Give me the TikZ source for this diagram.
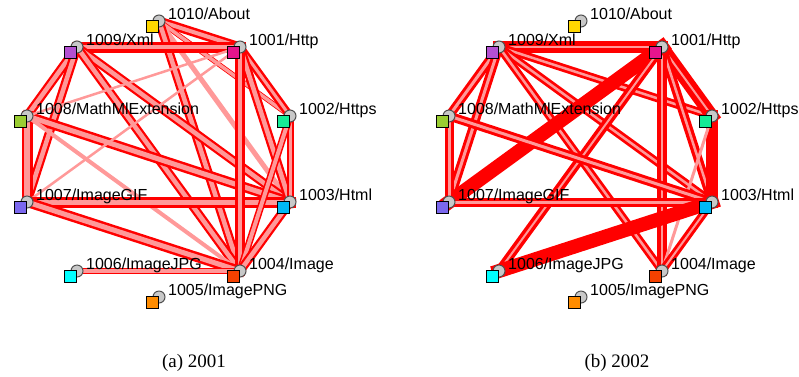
\documentclass[tikz,border=0pt]{standalone}
\usepackage{fontspec}
\setmainfont{Liberation Serif}
\newfontfamily\lblfont{Liberation Sans}
\usetikzlibrary{calc}
\definecolor{eRed}{RGB}{255,0,0}
\definecolor{ePink}{RGB}{255,153,153}
\definecolor{cGray}{RGB}{200,200,200}
\definecolor{cEdge}{RGB}{80,80,80}
\definecolor{cAbout}{RGB}{255,215,0}
\definecolor{cHttp}{RGB}{230,20,140}
\definecolor{cXml}{RGB}{180,80,210}
\definecolor{cMath}{RGB}{154,205,50}
\definecolor{cHttps}{RGB}{20,235,150}
\definecolor{cGif}{RGB}{123,104,238}
\definecolor{cHtml}{RGB}{0,185,245}
\definecolor{cJpg}{RGB}{0,255,255}
\definecolor{cImage}{RGB}{245,65,0}
\definecolor{cPng}{RGB}{255,140,0}
\tikzset{
  redband/.style={draw=eRed,line width=#1pt,line cap=rect},
  pinkband/.style={draw=ePink,line width=#1pt,line cap=rect},
  knob/.style={circle,draw=cEdge,fill=cGray,line width=1pt,minimum size=12pt,inner sep=0pt},
  sqbox/.style={rectangle,draw=black,line width=1pt,minimum size=12pt,inner sep=0pt},
  lbl/.style={anchor=base west,inner sep=0pt,font=\lblfont\fontsize{16}{18}\selectfont},
  capt/.style={anchor=base,inner sep=0pt,font=\fontsize{19}{21}\selectfont}
}
\newcommand\lnk[4]{\draw[redband=#3] (#1)--(#2); \draw[pinkband=#4] (#1)--(#2);}
\newcommand\plnk[3]{\draw[pinkband=#3] (#1)--(#2);}
\newcommand\rlnk[3]{\draw[redband=#3] (#1)--(#2);}
\newcommand\vtx[4]{%
  \node[knob] (#1k) at (#1) {};
  \node[sqbox,fill=#2] (#1q) at ($(#1)+(-6.5,5.5)$) {};
  \node[lbl] (#1t) at ($(#1)+(9,-2)$) {#3#4};}
\begin{document}
\begin{tikzpicture}[x=1pt,y=-1pt]
\useasboundingbox (0,0) rectangle (799,376);
% ---------- left panel (2001)
\coordinate (aA) at (159,21);
\coordinate (aH) at (240,47);
\coordinate (aX) at (77,47);
\coordinate (aM) at (27,116);
\coordinate (aS) at (290,116);
\coordinate (aG) at (27,202);
\coordinate (aT) at (290,202);
\coordinate (aJ) at (77,271);
\coordinate (aI) at (240,271);
\coordinate (aP) at (159,297);
\begin{scope}
\clip (0,0) rectangle (376,376);
\lnk{aA}{aH}{9}{4}
\lnk{aA}{aS}{5}{3.5}
\plnk{aA}{aT}{5}
\lnk{aA}{aI}{9}{4.5}
\lnk{aX}{aH}{11}{4}
\lnk{aX}{aM}{9}{4.5}
\lnk{aX}{aG}{9}{4.5}
\lnk{aX}{aT}{9}{4.5}
\lnk{aX}{aI}{9}{4.5}
\lnk{aM}{aG}{11}{6}
\lnk{aM}{aT}{10}{5}
\plnk{aM}{aI}{4}
\plnk{aM}{aH}{2.5}
\plnk{aG}{aH}{2.5}
\lnk{aG}{aT}{11}{5}
\lnk{aG}{aI}{10}{5}
\lnk{aH}{aS}{8}{3}
\lnk{aH}{aT}{9}{4.5}
\lnk{aH}{aI}{10}{4.5}
\lnk{aS}{aT}{7}{3}
\lnk{aS}{aI}{7}{4}
\lnk{aT}{aI}{9}{4.5}
\lnk{aJ}{aI}{6}{4.5}
\vtx{aA}{cAbout}{1010/}{About}
\vtx{aH}{cHttp}{1001/}{Http}
\vtx{aX}{cXml}{1009/}{Xml}
\vtx{aM}{cMath}{1008/}{MathMlExtension}
\vtx{aS}{cHttps}{1002/}{Https}
\vtx{aG}{cGif}{1007/}{ImageGIF}
\vtx{aT}{cHtml}{1003/}{Html}
\vtx{aJ}{cJpg}{1006/}{ImageJPG}
\vtx{aI}{cImage}{1004/}{Image}
\vtx{aP}{cPng}{1005/}{ImagePNG}
\end{scope}
% ---------- right panel (2002)
\coordinate (bA) at (581,21);
\coordinate (bH) at (662,47);
\coordinate (bX) at (499,47);
\coordinate (bM) at (449,116);
\coordinate (bS) at (712,116);
\coordinate (bG) at (449,202);
\coordinate (bT) at (712,202);
\coordinate (bJ) at (499,271);
\coordinate (bI) at (662,271);
\coordinate (bP) at (581,297);
\lnk{bX}{bH}{12}{2.5}
\lnk{bX}{bM}{9}{3}
\lnk{bX}{bG}{9}{3}
\lnk{bX}{bS}{8}{2.5}
\lnk{bX}{bT}{8}{2.5}
\lnk{bX}{bI}{8}{2.5}
\lnk{bH}{bS}{13}{2}
\lnk{bH}{bT}{9}{2.5}
\lnk{bH}{bI}{10}{2.5}
\rlnk{bH}{bG}{14}
\lnk{bH}{bJ}{9}{2}
\rlnk{bS}{bT}{12}
\plnk{bS}{bI}{3}
\lnk{bM}{bG}{9}{3}
\lnk{bM}{bT}{9}{3}
\lnk{bG}{bT}{9}{3}
\rlnk{bJ}{bT}{14}
\lnk{bT}{bI}{8}{2}
\vtx{bA}{cAbout}{1010/}{About}
\vtx{bH}{cHttp}{1001/}{Http}
\vtx{bX}{cXml}{1009/}{Xml}
\vtx{bM}{cMath}{1008/}{MathMlExtension}
\vtx{bS}{cHttps}{1002/}{Https}
\vtx{bG}{cGif}{1007/}{ImageGIF}
\vtx{bT}{cHtml}{1003/}{Html}
\vtx{bJ}{cJpg}{1006/}{ImageJPG}
\vtx{bI}{cImage}{1004/}{Image}
\vtx{bP}{cPng}{1005/}{ImagePNG}
% ---------- captions
\node[capt] (capa) at (194,367) {(a) 2001};
\node[capt] (capb) at (617,367) {(b) 2002};
\end{tikzpicture}
\end{document}
